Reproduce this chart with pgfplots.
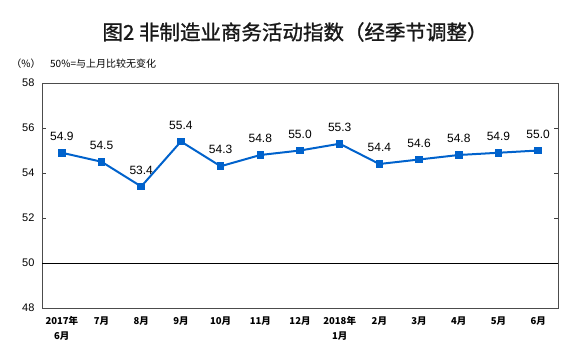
\documentclass[border=0pt]{standalone}
\usepackage{fontspec}
\setmainfont{Liberation Sans}
\newfontfamily\cjk{Noto Sans CJK SC}
\newfontfamily\cjktitle[FakeBold=1.2]{Noto Sans CJK SC}
\usepackage{pgfplots}
\pgfplotsset{compat=1.18}
\definecolor{lineblue}{RGB}{0,98,204}
\begin{document}
\begin{tikzpicture}[x=1pt,y=1pt]
\path[use as bounding box] (-42,-54) rectangle (538,308);
\begin{axis}[
  at={(0,0)}, anchor=south west,
  scale only axis, width=516pt, height=225pt,
  xmin=-0.5, xmax=12.5, ymin=48, ymax=58,
  ytick={48,50,...,58},
  xtick={0,...,12},
  xticklabels={{2017年\\6月},7月,8月,9月,10月,11月,12月,{2018年\\1月},2月,3月,4月,5月,6月},
  xticklabel style={align=center, font=\cjk\bfseries\fontsize{9.5}{14.5}\selectfont, anchor=north, yshift=-5pt},
  yticklabel style={font=\fontsize{11}{12}\selectfont, xshift=-4pt},
  /pgf/number format/assume math mode=true,
  xtick style={draw=none},
  ytick style={draw=black!75, line width=0.8pt},
  tick align=inside, major tick length=4pt,
  axis line style={draw=black!70, line width=1pt},
  clip=false,
]
\addplot[black, line width=0.7pt, forget plot] coordinates {(-0.5,50) (12.5,50)};
\addplot[lineblue, line width=2pt, mark=square*, mark size=2.8pt,
  mark options={solid, fill=lineblue, draw=lineblue},
  nodes near coords,
  nodes near coords style={font=\fontsize{12}{13}\selectfont, text=black, anchor=south, yshift=8pt, /pgf/number format/fixed, /pgf/number format/fixed zerofill, /pgf/number format/precision=1},
] coordinates {
(0,54.9) (1,54.5) (2,53.4) (3,55.4) (4,54.3) (5,54.8) (6,55.0)
(7,55.3) (8,54.4) (9,54.6) (10,54.8) (11,54.9) (12,55.0)
};
\end{axis}
\node[font=\cjktitle\fontsize{20.5}{22}\selectfont, text=black!90] at (253,276) {图2\ 非制造业商务活动指数（经季节调整）};
\node[font=\cjk\fontsize{10}{11}\selectfont] at (-16,244) {（\%）};
\node[font=\cjk\fontsize{10}{11}\selectfont, anchor=west, inner sep=0pt] at (8,244) {50\%=与上月比较无变化};
\end{tikzpicture}
\end{document}
